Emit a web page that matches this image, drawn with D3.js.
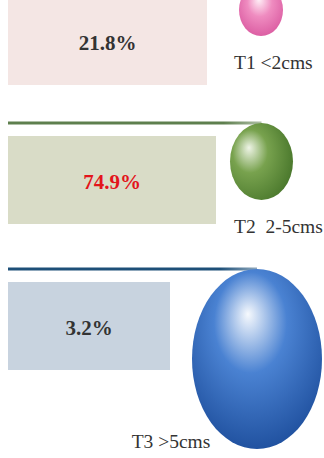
<!DOCTYPE html>
<html>
<head>
<meta charset="utf-8">
<script src="https://cdn.jsdelivr.net/npm/d3@7"></script>
<style>
  body { margin: 0; background: #fff; }
  svg { display: block; }
</style>
</head>
<body>
<div id="chart"></div>
<script>
//data
var categories = ["T1 <2cms", "T2\u00a0\u00a02-5cms", "T3 >5cms"];
var percentages = [21.8, 74.9, 3.2];

var width = 324, height = 458;

var svg = d3.select("#chart").append("svg")
	.attr("width", width)
	.attr("height", height);

//scales
var rowY = d3.scaleOrdinal().domain(categories).range([-16, 123, 269]);
var barRight = d3.scaleLinear().domain([3.2, 21.8, 74.9]).range([170, 207, 216]);
var boxFill = d3.scaleOrdinal().domain(categories).range(["#f4e6e4", "#d9dcc7", "#c8d3df"]);
var lineColor = d3.scaleOrdinal().domain(categories).range(["#c9a0b0", "#5e7f4e", "#1d4f78"]);
var textColor = d3.scaleOrdinal().domain(categories).range(["#333333", "#e3141b", "#333333"]);
var ballRx = d3.scaleOrdinal().domain(categories).range([22, 31.5, 65]);
var ballRy = d3.scaleOrdinal().domain(categories).range([26, 38.5, 90]);
var ballX = d3.scaleOrdinal().domain(categories).range([261, 261.5, 257]);
var labelX = d3.scaleOrdinal().domain(categories).range([234, 234, 171]);
var labelAnchor = d3.scaleOrdinal().domain(categories).range(["start", "start", "middle"]);

var ballColors = {
	"T1 <2cms": ["#fff0f7", "#ef8cc0", "#d6509a"],
	"T2\u00a0\u00a02-5cms": ["#eef4e6", "#78a24e", "#47752a"],
	"T3 >5cms": ["#f6f9fd", "#4a82d2", "#1a4a98"]
};
var ballFocus = [[0.45, 0.3], [0.3, 0.32], [0.43, 0.25]];

var rows = categories.map(function (c, i) {
	return { cat: c, value: percentages[i], i: i };
});

//gradients
var defs = svg.append("defs");
rows.forEach(function (d) {
	var g = defs.append("radialGradient")
		.attr("id", "ball" + d.i)
		.attr("cx", ballFocus[d.i][0] + 0.05)
		.attr("cy", ballFocus[d.i][1] + 0.12)
		.attr("fx", ballFocus[d.i][0])
		.attr("fy", ballFocus[d.i][1])
		.attr("r", 0.7);
	var cols = ballColors[d.cat];
	g.append("stop").attr("offset", "0%").attr("stop-color", cols[0]);
	g.append("stop").attr("offset", "40%").attr("stop-color", cols[1]);
	g.append("stop").attr("offset", "100%").attr("stop-color", cols[2]);

	var lg = defs.append("linearGradient").attr("id", "line" + d.i);
	lg.append("stop").attr("offset", "0%").attr("stop-color", lineColor(d.cat));
	lg.append("stop").attr("offset", "85%").attr("stop-color", lineColor(d.cat));
	lg.append("stop").attr("offset", "100%").attr("stop-color", lineColor(d.cat)).attr("stop-opacity", 0.5);
});

var row = svg.selectAll("g.row")
	.data(rows)
	.enter().append("g")
	.attr("class", "row");

//top rule
row.append("rect")
	.attr("x", 8)
	.attr("y", function (d) { return rowY(d.cat) - 1.5; })
	.attr("width", function (d) { return ballX(d.cat) - 8; })
	.attr("height", 3)
	.attr("fill", function (d) { return "url(#line" + d.i + ")"; });

//box
row.append("rect")
	.attr("x", 8)
	.attr("y", function (d) { return rowY(d.cat) + 13; })
	.attr("width", function (d) { return barRight(d.value) - 8; })
	.attr("height", 88)
	.attr("fill", function (d) { return boxFill(d.cat); });

//value
row.append("text")
	.attr("x", function (d) { return (8 + barRight(d.value)) / 2; })
	.attr("y", function (d) { return rowY(d.cat) + 13 + 44 + 9; })
	.attr("text-anchor", "middle")
	.style("font-family", "'Liberation Serif', 'Times New Roman', serif")
	.style("font-weight", "bold")
	.style("font-size", "21px")
	.attr("fill", function (d) { return textColor(d.cat); })
	.text(function (d) { return d3.format(".1f")(d.value) + "%"; });

//ball
row.append("ellipse")
	.attr("cx", function (d) { return ballX(d.cat); })
	.attr("cy", function (d) { return rowY(d.cat) + ballRy(d.cat); })
	.attr("rx", function (d) { return ballRx(d.cat); })
	.attr("ry", function (d) { return ballRy(d.cat); })
	.attr("fill", function (d) { return "url(#ball" + d.i + ")"; });

//category label
row.append("text")
	.attr("x", function (d) { return labelX(d.cat); })
	.attr("y", function (d) { return rowY(d.cat) + 2 * ballRy(d.cat) + (d.i == 2 ? -1 : 33); })
	.attr("text-anchor", function (d) { return labelAnchor(d.cat); })
	.style("font-family", "'Liberation Serif', 'Times New Roman', serif")
	.style("font-size", "19.5px")
	.attr("fill", "#333")
	.text(function (d) { return d.cat; });
</script>
</body>
</html>
